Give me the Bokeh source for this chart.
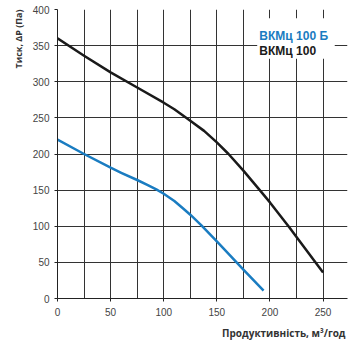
from bokeh.plotting import figure
from bokeh.models import (Range1d, SingleIntervalTicker, FixedTicker, Title, Label,
                          BoxAnnotation)
from bokeh.embed import file_html
from bokeh.resources import INLINE

# Data
x_black = [0, 25, 50, 75, 100, 110, 125, 138, 150, 161, 175, 191, 200, 218, 225, 250]
y_black = [360, 336, 313, 292, 271, 262, 246, 232, 216, 200, 177, 149, 133, 99, 85, 36]
x_blue = [0, 25, 50, 60, 75, 85, 93, 100, 110, 118, 125, 135, 150, 175, 194]
y_blue = [220, 200, 181, 174, 164, 157, 151, 145, 135, 125, 116, 102, 79, 40, 11]
x_ticks = [0, 50, 100, 150, 200, 250]
y_ticks = [0, 50, 100, 150, 200, 250, 300, 350, 400]
label_blue = "ВКМц 100 Б"
label_black = "ВКМц 100"
x_title = "Продуктивність, м³/год"
y_title = "Тиск, ΔР (Па)"

BLUE = "#1a7cc1"
BLACK = "#1a1a1a"

p = figure(width=350, height=346, output_backend="svg", toolbar_location=None,
           x_range=Range1d(0, 273), y_range=Range1d(0, 400),
           min_border_left=57, min_border_right=3, min_border_top=9, min_border_bottom=48)
p.outline_line_color = None
p.background_fill_color = "white"

p.xaxis.ticker = FixedTicker(ticks=x_ticks)
p.yaxis.ticker = FixedTicker(ticks=y_ticks)
p.xgrid.ticker = SingleIntervalTicker(interval=25)
p.ygrid.ticker = SingleIntervalTicker(interval=50)
for g in (p.xgrid, p.ygrid):
    g.grid_line_color = "#333333"
    g.grid_line_width = 1
    g.grid_line_alpha = 1.0

for ax in (p.xaxis, p.yaxis):
    ax.axis_line_color = "#222222"
    ax.major_tick_line_color = "#222222"
    ax.major_tick_out = 3
    ax.major_tick_in = 0
    ax.minor_tick_line_color = None
    ax.major_label_text_font = "Liberation Sans"
    ax.major_label_text_font_size = "10px"
    ax.major_label_text_color = "#444444"
p.yaxis.major_label_standoff = 5
p.xaxis.major_label_standoff = 6

# white box behind legend text
p.add_layout(BoxAnnotation(left=188, right=261, bottom=332, top=388,
                           fill_color="white", fill_alpha=1, line_color=None, level="underlay"))

p.line(x_black, y_black, line_color=BLACK, line_width=2.5, line_join="round")
p.line(x_blue, y_blue, line_color=BLUE, line_width=2.5, line_join="round")

p.add_layout(Label(x=190, y=364, text=label_blue, text_color=BLUE,
                   text_font="Liberation Sans", text_font_style="bold",
                   text_font_size="12px", text_baseline="alphabetic"))
p.add_layout(Label(x=190, y=342, text=label_black, text_color=BLACK,
                   text_font="Liberation Sans", text_font_style="bold",
                   text_font_size="12px", text_baseline="alphabetic"))

p.add_layout(Title(text=x_title, align="right", text_font="Open Sans",
                   text_font_style="bold", text_font_size="10px",
                   text_color="#333333", offset=2), "below")
p.add_layout(Title(text=y_title, align="right", text_font="Open Sans",
                   text_font_style="bold", text_font_size="9px",
                   text_color="#333333"), "left")

open("out.html", "w").write(file_html(p, INLINE))
